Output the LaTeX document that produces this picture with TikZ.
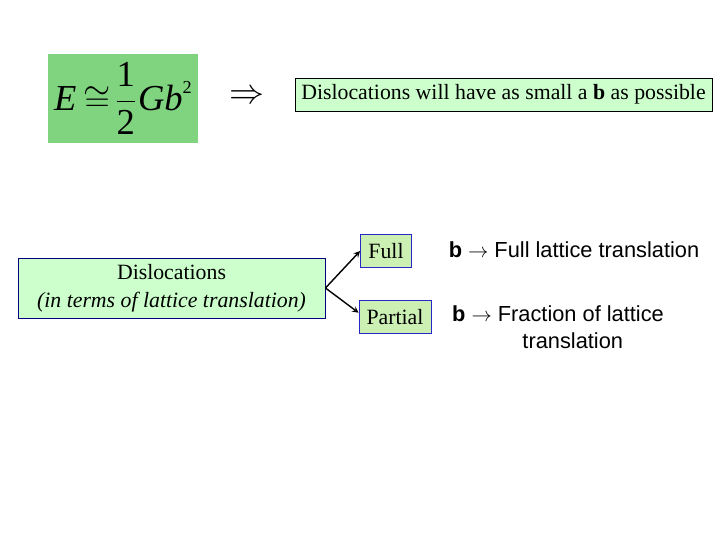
\documentclass[tikz,border=0pt]{standalone}
\usepackage{fontspec}
\setmainfont{Liberation Serif}
\newfontfamily\arialfont{Liberation Sans}
\usetikzlibrary{arrows,positioning}
\definecolor{eqgreen}{RGB}{128,212,128}
\definecolor{palegreen}{RGB}{204,255,204}
\definecolor{leafgreen}{RGB}{204,240,180}
\definecolor{navyline}{RGB}{0,0,128}
\definecolor{blueline}{RGB}{40,40,200}

\begin{document}
\begin{tikzpicture}[x=0.025cm,y=-0.025cm]
    \tikzstyle{every path}=[line width=0.6pt]
    \tikzstyle{paleboxa}=[draw,fill=palegreen,inner sep=0pt,font=\fontsize{15.5}{19}\selectfont]
    \tikzstyle{kindbox}=[draw=blueline,fill=leafgreen,inner sep=0pt,minimum height=0.825cm,font=\fontsize{15.5}{18}\selectfont]
    \tikzstyle{sanstext}=[font=\arialfont\fontsize{15.5}{19}\selectfont,align=center]
    \tikzstyle{branch}=[-stealth,line width=1pt]

    \useasboundingbox (0,0) rectangle (720,540);

    \node[fill=eqgreen,minimum width=3.75cm,minimum height=2.225cm,inner sep=0pt,
          font=\fontsize{26}{30}\selectfont] (energy) at (123,98.5)
      {\textit{E}\hspace{5pt}$\cong$\hspace{3pt}$\displaystyle\frac{\mbox{1}\rule[-3pt]{0pt}{1pt}}{\mbox{2}\rule{0pt}{20pt}}$\hspace{1pt}\textit{Gb}\raisebox{12pt}{\fontsize{13}{15}\selectfont 2}};
    \node[font=\fontsize{26}{30}\selectfont] (implies) at (247,97) {$\Rightarrow$};
    \node[paleboxa,minimum width=10.425cm,minimum height=0.825cm] (smallb) at (503.5,94.5)
      {Dislocations will have as small a \textbf{b} as possible};

    \node[paleboxa,draw=navyline,minimum width=7.675cm,minimum height=1.5cm,align=center] (disl) at (171.5,288)
      {Dislocations\\[1pt] \textit{(in terms of lattice translation)}};
    \node[kindbox,minimum width=1.275cm] (full) at (386,251) {Full};
    \node[kindbox,minimum width=1.8cm] (partial) at (395,317) {Partial};

    \node[sanstext] (fulltext) at (574,250) {\textbf{b} $\rightarrow$ Full lattice translation};
    \node[sanstext] (partialtext) at (558,327) {\textbf{b} $\rightarrow$ Fraction of lattice\\\hspace*{21pt}translation};

    \draw[branch] (disl.east) -- (full.west);
    \draw[branch] (disl.east) -- ([yshift=-9pt]partial.north west);
\end{tikzpicture}
\end{document}
